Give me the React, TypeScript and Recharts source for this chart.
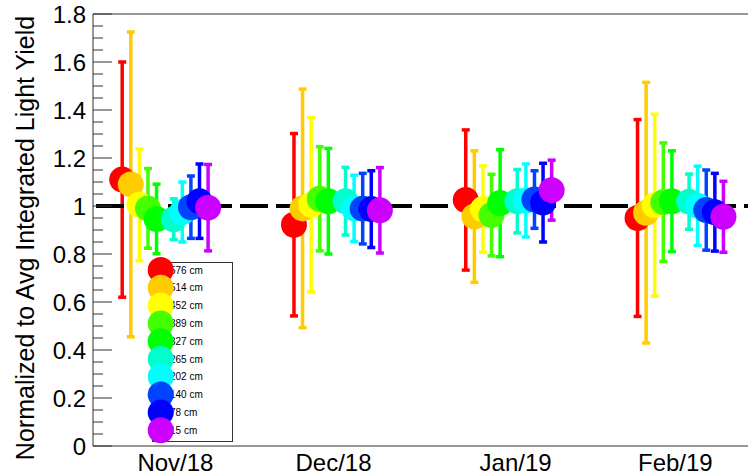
import { ScatterChart, Scatter, XAxis, YAxis, ErrorBar, ReferenceLine, Legend } from "recharts";

const FONT = "Liberation Sans, Arial, Helvetica, sans-serif";

// month clusters and where ROOT put the month labels
const months = ["Nov/18", "Dec/18", "Jan/19", "Feb/19"];
const monthTickPos = [0.06, 0.98, 2.04, 2.97];

// distances along the module and their palette colours
const distances = [576, 514, 452, 389, 327, 265, 202, 140, 78, 15];
const colors = ["#ff0000", "#ffcc00", "#ffff00", "#44ff00", "#00ff00", "#00ffcc", "#00ffff", "#0044ff", "#0000ff", "#cc00ff"];
const slots = [0, 1, 2, 3, 4, 6, 7, 8, 9, 10];

// normalized light yield (value) and error, one entry per month
const ly576 = [1.11, 0.922, 1.025, 0.95];
const er576 = [0.49, 0.38, 0.292, 0.41];
const ly514 = [1.09, 0.99, 0.956, 0.972];
const er514 = [0.635, 0.497, 0.274, 0.543];
const ly452 = [1.005, 1.005, 0.987, 1.003];
const er452 = [0.233, 0.363, 0.18, 0.379];
const ly389 = [0.99, 1.03, 0.962, 1.016];
const er389 = [0.166, 0.217, 0.17, 0.247];
const ly327 = [0.946, 1.02, 1.012, 1.02];
const er327 = [0.145, 0.22, 0.223, 0.21];
const ly265 = [0.945, 1.02, 1.02, 1.018];
const er265 = [0.085, 0.141, 0.132, 0.115];
const ly202 = [0.975, 0.99, 1.023, 1.001];
const er202 = [0.125, 0.138, 0.152, 0.165];
const ly140 = [0.995, 0.989, 1.027, 0.983];
const er140 = [0.13, 0.147, 0.12, 0.167];
const ly78 = [1.02, 0.987, 1.014, 0.974];
const er78 = [0.155, 0.16, 0.164, 0.162];
const ly15 = [0.993, 0.982, 1.066, 0.955];
const er15 = [0.18, 0.178, 0.125, 0.148];

const yMajorTicks = [0, 0.2, 0.4, 0.6, 0.8, 1, 1.2, 1.4, 1.6, 1.8];

const seriesY = [ly576, ly514, ly452, ly389, ly327, ly265, ly202, ly140, ly78, ly15];
const seriesE = [er576, er514, er452, er389, er327, er265, er202, er140, er78, er15];
const slotWidth = 0.05;

const series = distances.map((d, i) => ({
  name: `${d} cm`,
  color: colors[i],
  data: months.map((_, j) => ({
    x: j + (slots[i] - 5) * slotWidth,
    y: seriesY[i][j],
    err: seriesE[i][j],
  })),
}));

// major ticks plus 3 minor ticks in between
const yTicks: number[] = [];
yMajorTicks.forEach((t, i) => {
  yTicks.push(t);
  if (i < yMajorTicks.length - 1) {
    const step = (yMajorTicks[i + 1] - t) / 4;
    for (let k = 1; k < 4; k++) yTicks.push(t + k * step);
  }
});

const YTick = (p: any) => {
  const v = p.payload.value;
  const major = Math.round(v * 100) % 20 === 0;
  return (
    <g>
      <line x1={p.x} x2={p.x + (major ? 19 : 10)} y1={p.y} y2={p.y} stroke="#333" strokeWidth={1} />
      {major && (
        <text x={p.x - 7} y={p.y} dy={8.5} textAnchor="end" fontSize={24} fontFamily={FONT} fill="#000">
          {String(Math.round(v * 10) / 10)}
        </text>
      )}
    </g>
  );
};

const MonthTick = (p: any) => (
  <text x={p.x} y={471} textAnchor="middle" fontSize={24} fontFamily={FONT} fill="#000">
    {months[p.index]}
  </text>
);

const YTitle = () => (
  <text
    x={34}
    y={238}
    textAnchor="middle"
    fontSize={25}
    fontFamily={FONT}
    fill="#000"
    transform="rotate(-90, 34, 238)"
  >
    Normalized to Avg Integrated Light Yield
  </text>
);

const LegendBox = () => (
  <svg width={100} height={195} style={{ display: "block" }}>
    <rect x={12.5} y={7.5} width={80} height={179} fill="#fff" stroke="#333" strokeWidth={1} />
    {series.map((s, i) => (
      <text key={"t" + s.name} x={30} y={15 + i * 17.8 + 3.6} fontSize={10} fontFamily={FONT} fill="#000">
        {s.name}
      </text>
    ))}
    {series.map((s, i) => (
      <circle key={"c" + s.name} cx={20.7} cy={15 + i * 17.8} r={13} fill={s.color} />
    ))}
  </svg>
);

export default function App() {
  return (
    <div style={{ width: 748, height: 476, overflow: "hidden", background: "#fff" }}>
      <style>{"html,body{margin:0;padding:0;overflow:hidden;}"}</style>
      <ScatterChart width={748} height={476} margin={{ top: 14, right: 0, bottom: 0, left: 0 }}>
        <XAxis
          type="number"
          dataKey="x"
          domain={[-0.42, 3.393]}
          ticks={monthTickPos}
          interval={0}
          allowDataOverflow
          tickLine={false}
          tickSize={0}
          height={30}
          axisLine={{ stroke: "#333" }}
          tick={<MonthTick />}
        />
        <YAxis
          type="number"
          dataKey="y"
          domain={[0, 1.8]}
          ticks={yTicks}
          interval={0}
          allowDataOverflow
          width={93}
          tickLine={false}
          tickSize={0}
          tickMargin={0}
          axisLine={{ stroke: "#333" }}
          tick={<YTick />}
          label={() => <YTitle />}
        />
        <ReferenceLine y={1.8} stroke="#333" strokeWidth={1} />
        {series.map((s) => (
          <Scatter
            key={s.name}
            name={s.name}
            data={s.data}
            fill={s.color}
            isAnimationActive={false}
            shape={(p: any) => <circle cx={p.cx} cy={p.cy} r={13} fill={s.color} />}
          >
            <ErrorBar dataKey="err" direction="y" width={4} strokeWidth={3.5} stroke={s.color} />
          </Scatter>
        ))}
        <ReferenceLine y={1} stroke="#000" strokeWidth={4} strokeDasharray="28 8" strokeDashoffset={33} />
        <Legend
          layout="vertical"
          align="center"
          verticalAlign="middle"
          wrapperStyle={{ left: 140, top: 255, width: 100, height: 195 }}
          content={() => <LegendBox />}
        />
      </ScatterChart>
    </div>
  );
}
